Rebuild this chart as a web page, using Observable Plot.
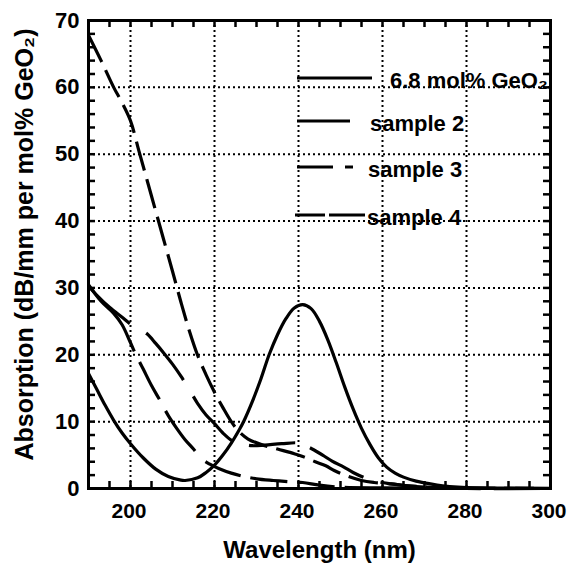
<!DOCTYPE html>
<html><head><meta charset="utf-8">
<script src="https://cdn.jsdelivr.net/npm/d3@7"></script>
<script src="https://cdn.jsdelivr.net/npm/@observablehq/plot@0.6"></script>
<style>body{margin:0;background:#fff}</style>
</head><body><div id="chart"></div>
<script>
// ---- data ----
const seriesNames = ["6.8 mol% GeO\u2082", "sample 2", "sample 3", "sample 4"];

const wlSolid  = [190,192,194,196,198,200,203,206,209,212,213,216,218,220,222,224,226,227,229,231,233,235,237,239,241,243,245,247,249,251,253,255,257,259,261,263,265,268,270,273,276,280,290,300];
const absSolid = [17.2,14.8,12.4,10.2,8.3,6.7,4.6,2.9,1.8,1.25,1.2,1.6,2.4,3.5,5.0,6.8,8.9,10.1,13.0,16.3,20.0,23.0,25.4,27.0,27.5,26.9,25.0,22.2,18.8,15.2,11.9,9.0,6.6,4.6,3.2,2.3,1.7,1.1,0.85,0.5,0.3,0.15,0.05,0.03];

const wlS2  = [190,193,196,198,200,202,204,206,208,210,212,214,216,218,220,222,224,226,228,231,235,239,241,244,246.5,248.5,251,255,258,262,266,270,275,280,290,300];
const absS2 = [67.8,64,60,57.7,55,50.5,46,41.5,37,32.5,27.9,23.6,19.9,17.0,14.4,12.1,10,8.4,7.4,6.6,5.9,5.2,4.8,4.0,3.4,2.7,2.0,1.2,0.9,0.7,0.4,0.25,0.1,0.05,0.02,0];

const wlS3  = [190,192,195,198,200,202,204,206,208,210,212,214,216,218,220,222,224.6,227,229,232,236,240,242,243.6,246,248,250.8,253,256.4,259,262,266,270,275,280,290,300];
const absS3 = [30.3,28.9,27.1,25.6,24.6,23.9,23.1,21.7,20.2,18.6,16.8,14.8,12.7,11.0,9.7,8.3,7.0,6.6,6.4,6.5,6.7,6.8,6.3,5.8,4.9,4.1,3.2,2.4,1.45,1.0,0.7,0.4,0.2,0.1,0.05,0.02,0];

const wlS4  = [190,193,196,198,200,201.2,203,205,207,209,211,213,215,217,219,221,224,227,230,234,238,241,245,250,260,270,280,300];
const absS4 = [30.5,28,26.2,24.5,21.8,20.1,17.9,15.4,13.2,10.9,9.0,7.3,5.9,4.4,3.6,3.0,2.3,1.8,1.45,1.2,1.0,0.9,0.5,0.2,0.1,0.05,0,0];

const xTicks = [200,220,240,260,280,300];
const yTicks = [0,10,20,30,40,50,60,70];
const xGrid  = [200,220,240,260,280];
const yGrid  = [10,20,30,40,50,60];
const xMinor = [195,200,205,210,215,220,225,230,235,240,245,250,255,260,265,270,275,280,285,290,295];
const yMinor = [2,4,6,8,10,12,14,16,18,20,22,24,26,28,30,32,34,36,38,40,42,44,46,48,50,52,54,56,58,60,62,64,66,68];

const xLabel = "Wavelength (nm)";
const yLabel = "Absorption (dB/mm per mol% GeO\u2082)";

// ---- layout / style ----
const W = 567, H = 571, mL = 88, mR = 17, mT = 20, mB = 83;
const ph = H - mT - mB, pw = W - mL - mR;
const FONT = "'Liberation Sans', Arial, Helvetica, sans-serif";
const dashes = [null, "30,9", "56,19,60,19,59,18,46,16,61,18,45,15", "82,12,42,13,50,15,38,10,37,10,38,10"];

const series = [
  {wl: wlSolid, a: absSolid},
  {wl: wlS2, a: absS2},
  {wl: wlS3, a: absS3},
  {wl: wlS4, a: absS4}
];

const lineMarks = series.map((s, k) =>
  Plot.line(s.wl.map((w, i) => ({w, a: s.a[i]})), {
    x: "w", y: "a", stroke: "black", strokeWidth: 3.2,
    strokeDasharray: dashes[k], curve: "catmull-rom", strokeLinecap: "butt"
  })
);

const grid = {stroke: "black", strokeWidth: 2, strokeDasharray: "2,3", strokeOpacity: 1};
const tk = {stroke: "black", strokeWidth: 2.5};

const chart = Plot.plot({
  width: W, height: H,
  marginLeft: mL, marginRight: mR, marginTop: mT, marginBottom: mB,
  style: {fontFamily: FONT, fontWeight: "bold", fontSize: "22px", color: "black", background: "white"},
  x: {domain: [190, 300]},
  y: {domain: [0, 70]},
  marks: [
    Plot.ruleX(xGrid, grid),
    Plot.ruleY(yGrid, grid),
    Plot.tickX(xMinor, {x: d => d, insetTop: ph - 7, ...tk}),
    Plot.tickX(xMinor, {x: d => d, insetBottom: ph - 7, ...tk}),
    Plot.tickY(yMinor, {y: d => d, insetRight: pw - 7, ...tk}),
    Plot.tickY(yMinor, {y: d => d, insetLeft: pw - 7, ...tk}),
    ...lineMarks,
    Plot.frame({stroke: "black", strokeWidth: 3}),
    Plot.axisX(xTicks, {tickSize: 0, tickPadding: 15, fontSize: 21, fontWeight: "bold", dx: -1.5, label: null}),
    Plot.axisY(yTicks, {tickSize: 0, tickPadding: 9, fontSize: 22, fontWeight: "bold", label: null}),
    Plot.text([xLabel], {frameAnchor: "bottom", dy: 69, fontSize: 24, fontWeight: "bold"}),
    Plot.text([yLabel], {frameAnchor: "left", textAnchor: "middle", dx: -64, dy: -10, rotate: -90, fontSize: 25, fontWeight: "bold"})
  ]
});
document.getElementById("chart").appendChild(chart);

// ---- legend (inside the plot, upper right) ----
const legendLayout = [
  {y: 78,  segs: [[297, 372]], tx: 390},
  {y: 121, segs: [[297, 350]], tx: 370},
  {y: 167, segs: [[297, 333], [345, 353]], tx: 368},
  {y: 215, segs: [[295, 325], [329, 365]], tx: 367}
];
const lg = d3.select(chart).append("g")
  .attr("font-family", FONT).attr("font-weight", "bold").attr("font-size", 22)
  .attr("text-anchor", "start");
legendLayout.forEach((L, i) => {
  L.segs.forEach(([a, b]) => {
    lg.append("line").attr("x1", a).attr("x2", b).attr("y1", L.y).attr("y2", L.y)
      .attr("stroke", "black").attr("stroke-width", 3);
  });
  lg.append("text").attr("x", L.tx).attr("y", L.y + 2).attr("dy", "0.35em")
    .attr("fill", "black").attr("text-anchor", "start")
    .text(seriesNames[i]);
});
</script>
</body></html>
